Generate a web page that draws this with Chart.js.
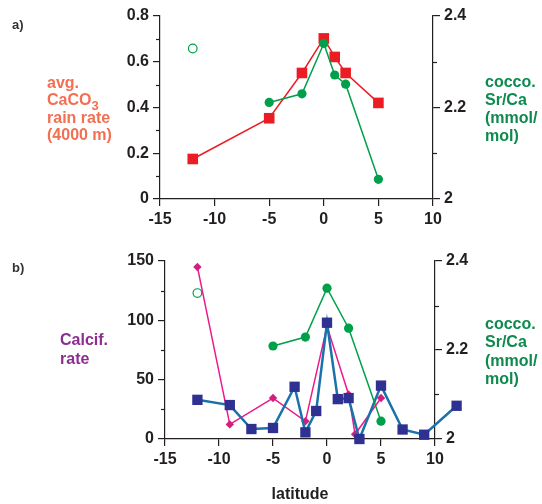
<!DOCTYPE html>
<html><head><meta charset="utf-8">
<script src="https://cdn.jsdelivr.net/npm/chart.js@4/dist/chart.umd.min.js"></script>
<style>
html,body{margin:0;padding:0;background:#fff;}
body{width:542px;height:504px;overflow:hidden;position:relative;font-family:"Liberation Sans",Arial,Helvetica,sans-serif;}
canvas{position:absolute;left:0;}
#ca{top:0;}
#cb{top:240px;}
.lab{position:absolute;font-weight:bold;font-size:16px;white-space:nowrap;}
.sub{font-size:13px;position:relative;top:5px;}
</style></head>
<body>
<canvas id="ca" width="542" height="240"></canvas>
<canvas id="cb" width="542" height="264"></canvas>
<div class="lab" style="left:12px;top:17px;font-size:13px;color:#333;">a)</div>
<div class="lab" style="left:12px;top:260px;font-size:13px;color:#333;">b)</div>
<div class="lab" style="left:47px;top:74px;line-height:17px;color:#f36f52;">avg.<br>CaCO<span class="sub">3</span><br>rain rate<br>(4000 m)</div>
<div class="lab" style="left:485px;top:73px;line-height:18px;color:#0e8a4e;">cocco.<br>Sr/Ca<br>(mmol/<br>mol)</div>
<div class="lab" style="left:60px;top:330px;line-height:19px;color:#8b2e8f;">Calcif.<br>rate</div>
<div class="lab" style="left:485px;top:315px;line-height:18.3px;color:#0e8a4e;">cocco.<br>Sr/Ca<br>(mmol/<br>mol)</div>
<script>
// ---- Panel a data ----
const latA_caco3 = [-12, -5, -2, 0, 1, 2, 5];
const caco3Rain  = [0.175, 0.353, 0.551, 0.702, 0.621, 0.551, 0.42];
const latA_srca  = [-5, -2, 0, 1, 2, 5];
const srcaA      = [2.211, 2.230, 2.340, 2.271, 2.251, 2.043];
const latA_srcaOpen = [-12];
const srcaAOpen     = [2.329];

// ---- Panel b data ----
const latB_calcif = [-12, -9, -5, -2, 0, 2, 2.6, 5];
const calcifRate  = [145, 12.3, 34.5, 14.9, 95, 37.5, 4, 34.5];
const latB_calcif2 = [-12, -9, -7, -5, -3, -2, -1, 0, 1, 2, 3, 5, 7, 9, 12];
const calcifRate2  = [33, 28.6, 8.4, 9.3, 44, 5.6, 23.6, 98, 33.6, 34.5, 0, 45, 8, 3.6, 28];
const latB_srca  = [-5, -2, 0, 2, 5];
const srcaB      = [2.209, 2.229, 2.339, 2.249, 2.040];
const latB_srcaOpen = [-12];
const srcaBOpen     = [2.328];

// ---- ticks ----
const xTicksMin = -15, xTicksMax = 10, xStep = 5;
const yA_minor = [0.1, 0.3, 0.5, 0.7];
const yB_minor = [25, 75, 125];
const srca_minor = [2.1, 2.3];

const INK = '#231f20';
const tickFont = {family: '"Liberation Sans", Arial, sans-serif', size: 16, weight: 'bold'};

function pts(xs, ys){ return xs.map((x,i)=>({x:x, y:ys[i]})); }

const minorTicks = {
  id: 'minorTicks',
  afterDraw(chart, args, opts){
    const ctx = chart.ctx;
    (opts.list || []).forEach(m => {
      const s = chart.scales[m.axis];
      ctx.save();
      ctx.strokeStyle = INK; ctx.lineWidth = 1.2;
      m.values.forEach(v => {
        const y = Math.round(s.getPixelForValue(v)) + 0.5;
        const x = s.position === 'left' ? s.right : s.left;
        const dir = s.position === 'left' ? -1 : 1;
        ctx.beginPath(); ctx.moveTo(x, y); ctx.lineTo(x + dir*4, y); ctx.stroke();
      });
      ctx.restore();
    });
  }
};

// draws point markers that Chart.js skips because they lie outside the chart area
const outsidePoints = {
  id: 'outsidePoints',
  afterDatasetsDraw(chart){
    const area = chart.chartArea;
    chart.data.datasets.forEach((ds, i) => {
      const meta = chart.getDatasetMeta(i);
      meta.data.forEach(el => {
        if (el.x < area.left - 1 || el.x > area.right + 1 || el.y < area.top - 1 || el.y > area.bottom + 1) {
          el.draw(chart.ctx);
        }
      });
    });
  }
};

function axisCommon(){
  return {
    grid: {drawOnChartArea: false, drawTicks: true, tickLength: 7, color: INK, lineWidth: 1.2},
    border: {display: true, color: INK, width: 1.2}
  };
}

function makeScales(yMin, yMax, yStep, leftW, rightW, xH, withTitle){
  const x = Object.assign(axisCommon(), {
    type: 'linear', position: 'bottom', min: xTicksMin, max: xTicksMax,
    ticks: {stepSize: xStep, font: tickFont, color: INK, padding: 4},
    afterFit(s){ s.height = xH; }
  });
  if (withTitle) {
    x.title = {display: true, text: 'latitude', font: tickFont, color: INK, padding: {top: 0, bottom: 0}};
  }
  return {
    x: x,
    y: Object.assign(axisCommon(), {
      type: 'linear', position: 'left', min: yMin, max: yMax,
      ticks: {stepSize: yStep, font: tickFont, color: INK, padding: 4},
      afterFit(s){ s.width = leftW; }
    }),
    y2: Object.assign(axisCommon(), {
      type: 'linear', position: 'right', min: 2, max: 2.4,
      ticks: {stepSize: 0.2, font: tickFont, color: INK, padding: 4,
              callback: v => String(Math.round(v * 10) / 10)},
      afterFit(s){ s.width = rightW; }
    })
  };
}

const GREEN = '#00a04b';
const RED = '#ec1c24';

new Chart(document.getElementById('ca'), {
  type: 'scatter',
  data: {datasets: [
    {data: pts(latA_srca, srcaA), yAxisID: 'y2', showLine: true, borderColor: GREEN, backgroundColor: GREEN,
     borderWidth: 1.5, pointStyle: 'circle', pointRadius: 4.6, pointBorderWidth: 0, clip: false},
    {data: pts(latA_srcaOpen, srcaAOpen), yAxisID: 'y2', showLine: false, borderColor: GREEN, backgroundColor: '#fff',
     pointStyle: 'circle', pointRadius: 4.3, pointBorderWidth: 1.2, clip: false},
    {data: pts(latA_caco3, caco3Rain), yAxisID: 'y', showLine: true, borderColor: RED, backgroundColor: RED,
     borderWidth: 1.5, pointStyle: 'rect', pointRadius: 7.5, pointBorderWidth: 0, clip: false}
  ]},
  options: {
    responsive: false, animation: false, events: [],
    layout: {padding: {top: 16, left: 0, right: 0, bottom: 0}},
    plugins: {legend: {display: false}, tooltip: {enabled: false},
      minorTicks: {list: [{axis: 'y', values: yA_minor}, {axis: 'y2', values: srca_minor}]}},
    scales: makeScales(0, 0.8, 0.2, 160, 109, 41, false)
  },
  plugins: [minorTicks, outsidePoints]
});

const BLUE_LINE = '#1a72ab';
const BLUE_PT = '#2e3192';
const MAG_LINE = '#ec1a8c';
const MAG_PT = '#d21f7e';

new Chart(document.getElementById('cb'), {
  type: 'scatter',
  data: {datasets: [
    {data: pts(latB_srca, srcaB), yAxisID: 'y2', showLine: true, borderColor: GREEN, backgroundColor: GREEN,
     borderWidth: 1.5, pointStyle: 'circle', pointRadius: 4.6, pointBorderWidth: 0, clip: false},
    {data: pts(latB_srcaOpen, srcaBOpen), yAxisID: 'y2', showLine: false, borderColor: GREEN, backgroundColor: '#fff',
     pointStyle: 'circle', pointRadius: 4.3, pointBorderWidth: 1.2, clip: false},
    {data: pts(latB_calcif2, calcifRate2), yAxisID: 'y', showLine: true, borderColor: BLUE_LINE, backgroundColor: BLUE_PT,
     borderWidth: 2.5, pointStyle: 'rect', pointRadius: 7.3, pointBorderWidth: 0, clip: false},
    {data: pts(latB_calcif, calcifRate), yAxisID: 'y', showLine: true, borderColor: MAG_LINE, backgroundColor: MAG_PT,
     borderWidth: 1.5, pointStyle: 'rectRot', pointRadius: 4.2, pointBorderWidth: 0, clip: false}
  ]},
  options: {
    responsive: false, animation: false, events: [],
    layout: {padding: {top: 21, left: 0, right: 0, bottom: 0}},
    plugins: {legend: {display: false}, tooltip: {enabled: false},
      minorTicks: {list: [{axis: 'y', values: yB_minor}, {axis: 'y2', values: srca_minor}]}},
    scales: makeScales(0, 150, 50, 165, 107, 65, true)
  },
  plugins: [minorTicks, outsidePoints]
});
</script>
</body></html>
